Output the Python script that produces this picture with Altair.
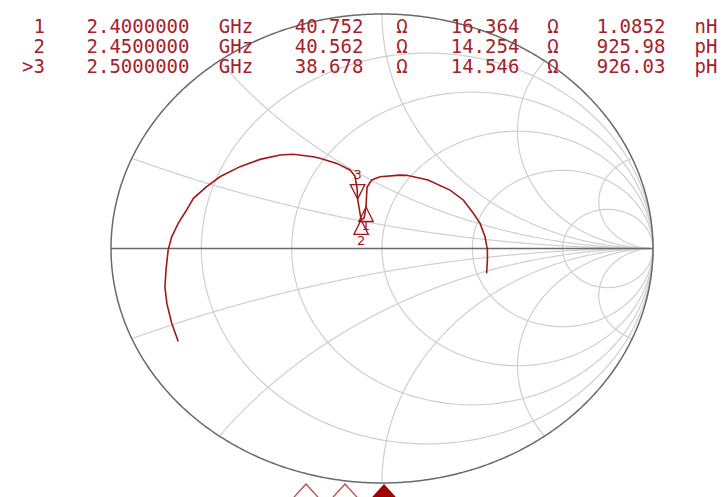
import numpy as np
import pandas as pd
import altair as alt

# ---------------- data ----------------
# marker table (header)
marker_ids = ["1", "2", ">3"]
freqs = ["2.4000000", "2.4500000", "2.5000000"]
freq_units = ["GHz", "GHz", "GHz"]
res_vals = ["40.752", "40.562", "38.678"]
react_vals = ["16.364", "14.254", "14.546"]
ind_vals = ["1.0852", "925.98", "926.03"]
ind_units = ["nH", "pH", "pH"]

# measured trace, reflection coefficient (real, imag)
trace_re = [-0.752, -0.776, -0.794, -0.801, -0.797, -0.789, -0.776, -0.752, -0.721, -0.696,
            -0.647, -0.598, -0.524, -0.450, -0.376, -0.327, -0.254, -0.229, -0.167, -0.118,
            -0.100, -0.092, -0.090, -0.077, -0.066, -0.059, -0.057, -0.055, -0.038, -0.007,
            0.066, 0.091, 0.170, 0.251, 0.300, 0.337, 0.362, 0.380, 0.389, 0.389, 0.386]
trace_im = [-0.397, -0.319, -0.234, -0.163, -0.092, -0.006, 0.050, 0.107, 0.164, 0.214,
            0.264, 0.306, 0.349, 0.380, 0.399, 0.402, 0.391, 0.385, 0.363, 0.335,
            0.309, 0.258, 0.211, 0.122, 0.130, 0.177, 0.224, 0.262, 0.292, 0.306,
            0.313, 0.312, 0.292, 0.249, 0.207, 0.150, 0.107, 0.050, -0.006, -0.049, -0.106]

# markers on the trace
mk_names = ["1", "2", "3"]
mk_re = [-0.059, -0.077, -0.090]
mk_im = [0.177, 0.122, 0.211]
mk_dir = ["up", "up", "down"]
mk_label_dy = [19, 21, -24]

# Smith chart grid values
r_circles = [0.2, 0.5, 1.0, 2.0, 5.0]
x_arcs = [0.2, 0.5, 1.0, 2.0, 5.0]

# ---------------- geometry / layout ----------------
W, H = 709, 489
X_DOM = [-1.38007, 1.23616]
Y_DOM = [1.02559 - H / 234.5, 1.02559]
OFF = 8  # page margin

xs = alt.Scale(domain=X_DOM, nice=False, zero=False)
ys = alt.Scale(domain=Y_DOM, nice=False, zero=False)

# grid lines
rows = []
gid = 0
for r in r_circles:
    t = np.linspace(0, 2 * np.pi, 361)
    c, rad = r / (1 + r), 1 / (1 + r)
    for k, tt in enumerate(t):
        rows.append((gid, k, c + rad * np.cos(tt), rad * np.sin(tt)))
    gid += 1
for xv in x_arcs:
    for sgn in (1, -1):
        s = np.linspace(0, np.pi / 2 * 0.99995, 400)
        z = np.tan(s) + 1j * sgn * xv
        g = (z - 1) / (z + 1)
        for k, gg in enumerate(g):
            rows.append((gid, k, gg.real, gg.imag))
        gid += 1
grid_df = pd.DataFrame(rows, columns=["gid", "k", "gx", "gy"])

t = np.linspace(0, 2 * np.pi, 721)
outer_df = pd.DataFrame({"gid": 0, "k": np.arange(len(t)), "gx": np.cos(t), "gy": np.sin(t)})
axis_df = pd.DataFrame({"gid": [1, 1], "k": [0, 1], "gx": [-1.0, 1.0], "gy": [0.0, 0.0]})
frame_df = pd.concat([outer_df, axis_df])

enc = dict(x=alt.X("gx:Q", scale=xs, axis=None), y=alt.Y("gy:Q", scale=ys, axis=None))

grid = alt.Chart(grid_df).mark_line(color="#cfcfcf", strokeWidth=1.2).encode(
    detail="gid:N", order="k:Q", **enc)
frame = alt.Chart(frame_df).mark_line(color="#6a6a6a", strokeWidth=1.5).encode(
    detail="gid:N", order="k:Q", **enc)

trace_df = pd.DataFrame({"k": np.arange(len(trace_re)), "gx": trace_re, "gy": trace_im})
trace = alt.Chart(trace_df).mark_line(color="#a01818", strokeWidth=1.6).encode(
    order="k:Q", **enc)

layers = [grid, frame, trace]
SHAPES = {"down": "M0,0L-1,-2L1,-2Z", "up": "M0,0L-1,2L1,2Z"}
for i, nm in enumerate(mk_names):
    one = alt.Chart(pd.DataFrame({"name": [nm], "gx": [mk_re[i]], "gy": [mk_im[i]]}))
    layers.append(one.mark_point(shape=SHAPES[mk_dir[i]], size=210, filled=False,
                                 color="#a01818", strokeWidth=1.3, opacity=1).encode(**enc))
    layers.append(one.mark_text(dy=mk_label_dy[i], fontSize=13, font="DejaVu Sans",
                                color="#a01818").encode(text="name:N", **enc))

# header table
row_y = [27, 47, 67]
cols = [
    (marker_ids, 45, "right"),
    (freqs, 138, "center"),
    (freq_units, 236, "center"),
    (res_vals, 329, "center"),
    (["Ω"] * 3, 402, "center"),
    (react_vals, 485, "center"),
    (["Ω"] * 3, 553, "center"),
    (ind_vals, 631, "center"),
    (ind_units, 706, "center"),
]
for vals, cx, al in cols:
    for i, v in enumerate(vals):
        layers.append(alt.Chart(pd.DataFrame({"t": [v]})).mark_text(
            font="DejaVu Sans Mono", fontSize=19, color="#a3222c", align=al,
            baseline="middle").encode(
            x=alt.value(cx - OFF), y=alt.value(row_y[i] - OFF), text="t:N"))

# bottom marker tabs
tab_x = [306, 345, 384]
for i, nm in enumerate(mk_names):
    active = (i == 2)
    layers.append(alt.Chart(pd.DataFrame({"m": [nm]})).mark_point(
        shape="M0,0L-1,1.1L1,1.1Z", size=784, filled=active,
        color="#a00000" if active else "#c04848", strokeWidth=1.3, opacity=1).encode(
        x=alt.value(tab_x[i] - OFF), y=alt.value(484 - OFF)))

chart = alt.layer(*layers).properties(
    width=W, height=H, padding=0, autosize=alt.AutoSizeParams(type="none"),
    background="white"
).configure_view(stroke=None)

chart.save("out.html", embed_options={"renderer": "svg", "actions": False})
